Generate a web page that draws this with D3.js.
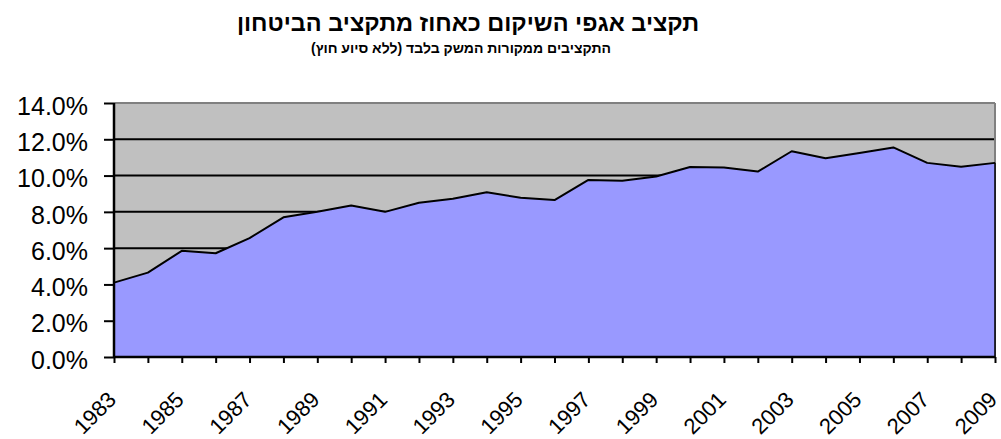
<!DOCTYPE html>
<html>
<head>
<meta charset="utf-8">
<script src="https://cdn.jsdelivr.net/npm/d3@7"></script>
<style>
  body { margin: 0; background: #fff; }
  svg { display: block; font-family: "Liberation Sans", Arial, sans-serif; }
</style>
</head>
<body>
<div id="chart"></div>
<script>
// Chart data
var years = [1983, 1984, 1985, 1986, 1987, 1988, 1989, 1990, 1991, 1992, 1993, 1994, 1995,
  1996, 1997, 1998, 1999, 2000, 2001, 2002, 2003, 2004, 2005, 2006, 2007, 2008, 2009];
var shares = [4.1, 4.65, 5.85, 5.72, 6.55, 7.7, 8.0, 8.35, 8.0, 8.5, 8.72, 9.08, 8.78,
  8.65, 9.76, 9.72, 9.95, 10.47, 10.44, 10.22, 11.34, 10.95, 11.25, 11.55, 10.7, 10.48, 10.7];
var yTicks = [0, 2, 4, 6, 8, 10, 12, 14];
var xLabelYears = years.filter(function (y) { return (y - 1983) % 2 === 0; });

var title = "תקציב אגפי השיקום כאחוז מתקציב הביטחון";
var subtitle = "התקציבים ממקורות המשק בלבד (ללא סיוע חוץ)";

// Dimensions
var svgWidth = 1001;
var svgHeight = 439;
var margin = { top: 103, right: 6, bottom: 82, left: 114 };
var width = svgWidth - margin.left - margin.right;
var height = svgHeight - margin.top - margin.bottom;

var svg = d3.select("#chart")
  .append("svg")
  .attr("width", svgWidth)
  .attr("height", svgHeight);

// Titles
svg.append("text")
  .attr("x", 468)
  .attr("y", 31)
  .attr("text-anchor", "middle")
  .attr("direction", "rtl")
  .attr("font-size", 23.5)
  .attr("font-weight", "bold")
  .text(title);

svg.append("text")
  .attr("x", 461)
  .attr("y", 53)
  .attr("text-anchor", "middle")
  .attr("direction", "rtl")
  .attr("font-size", 14)
  .attr("font-weight", "bold")
  .text(subtitle);

var chartGroup = svg.append("g")
  .attr("transform", `translate(${margin.left}, ${margin.top})`);

// Scales
var xScale = d3.scaleLinear()
  .domain([d3.min(years), d3.max(years)])
  .range([0, width]);

var yScale = d3.scaleLinear()
  .domain([0, 14])
  .range([height, 0]);

// Plot background
chartGroup.append("rect")
  .attr("width", width)
  .attr("height", height)
  .attr("fill", "#c0c0c0");

// Gridlines
chartGroup.selectAll(".grid")
  .data(yTicks.filter(function (t) { return t > 0 && t < 14; }))
  .enter()
  .append("line")
  .attr("x1", 0)
  .attr("x2", width)
  .attr("y1", d => yScale(d))
  .attr("y2", d => yScale(d))
  .attr("stroke", "#000")
  .attr("stroke-width", 2);

// Top and right borders of plot area
chartGroup.append("line")
  .attr("x1", 0).attr("x2", width)
  .attr("y1", 0).attr("y2", 0)
  .attr("stroke", "#808080")
  .attr("stroke-width", 2);
chartGroup.append("line")
  .attr("x1", width).attr("x2", width)
  .attr("y1", 0).attr("y2", height)
  .attr("stroke", "#808080")
  .attr("stroke-width", 2);

// Area
var area = d3.area()
  .x((d, i) => xScale(years[i]))
  .y0(yScale(0))
  .y1(d => yScale(d));

var line = d3.line()
  .x((d, i) => xScale(years[i]))
  .y(d => yScale(d));

chartGroup.append("path")
  .datum(shares)
  .attr("d", area)
  .attr("fill", "#9999ff");

chartGroup.append("path")
  .datum(shares)
  .attr("d", line)
  .attr("fill", "none")
  .attr("stroke", "#000")
  .attr("stroke-width", 2)
  .attr("stroke-linejoin", "round");

// right edge of area
chartGroup.append("line")
  .attr("x1", xScale(2009)).attr("x2", xScale(2009))
  .attr("y1", yScale(shares[shares.length - 1])).attr("y2", height)
  .attr("stroke", "#000")
  .attr("stroke-width", 1.5);

// Y axis
var yAxis = d3.axisLeft(yScale)
  .tickValues(yTicks)
  .tickSize(10)
  .tickPadding(16)
  .tickFormat(d => d.toFixed(1) + "%");

var yAxisG = chartGroup.append("g").call(yAxis);
yAxisG.select(".domain").attr("stroke-width", 2.5).attr("d", `M0,0V${height}`);
yAxisG.selectAll(".tick line").attr("stroke-width", 2);
yAxisG.selectAll("text")
  .attr("font-size", 25)
  .attr("dy", "0.45em")
  .attr("font-family", "Liberation Sans, Arial, sans-serif")
  .attr("fill", "#000");

// X axis
var xAxis = d3.axisBottom(xScale)
  .tickValues(years)
  .tickSize(6)
  .tickFormat(d => xLabelYears.indexOf(d) >= 0 ? d : "");

var xAxisG = chartGroup.append("g")
  .attr("transform", `translate(0, ${height})`)
  .call(xAxis);
xAxisG.select(".domain").attr("stroke-width", 2.5).attr("d", `M0,0H${width}`);
xAxisG.selectAll(".tick line").attr("stroke-width", 2);
xAxisG.selectAll("text")
  .attr("font-size", 22)
  .attr("font-family", "Liberation Sans, Arial, sans-serif")
  .attr("fill", "#000")
  .attr("text-anchor", "end")
  .attr("y", 0)
  .attr("dy", 0)
  .attr("transform", "translate(3, 44) rotate(-45)");
</script>
</body>
</html>
